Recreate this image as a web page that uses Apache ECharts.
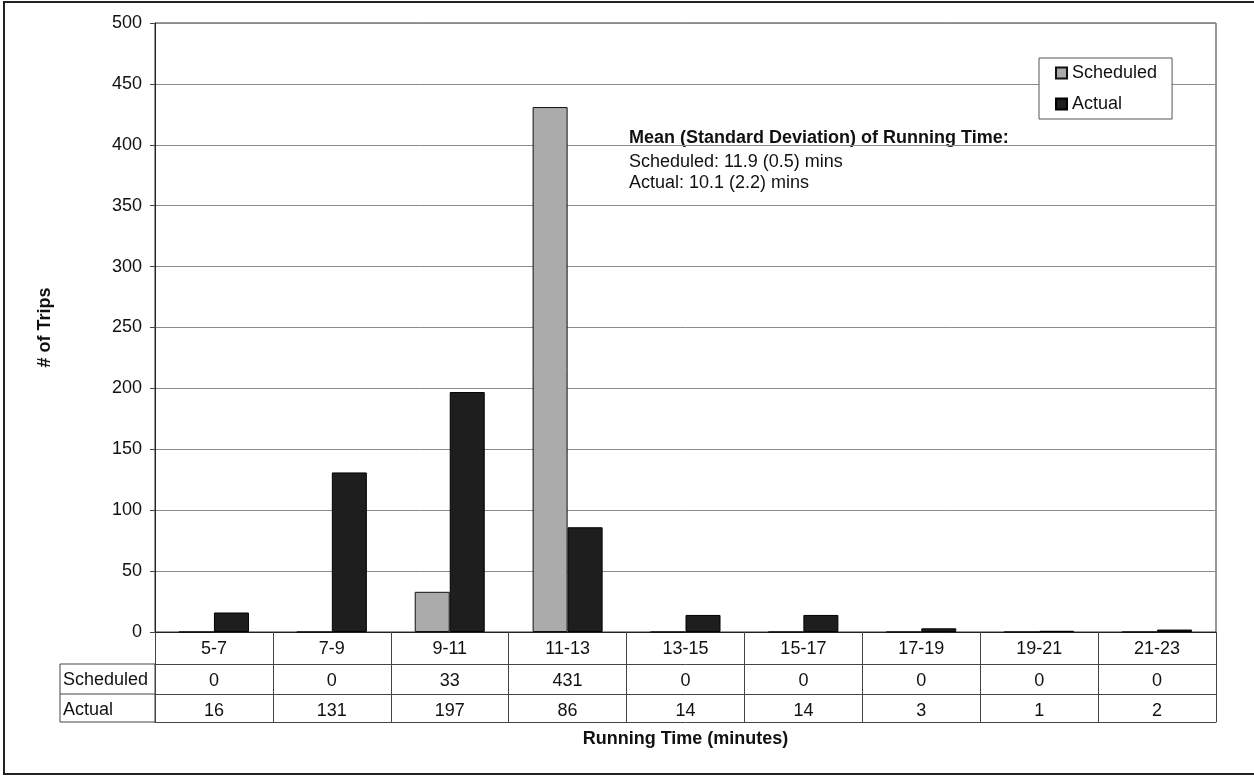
<!DOCTYPE html>
<html>
<head>
<meta charset="utf-8">
<style>
  html, body { margin: 0; padding: 0; background: #fff; }
  #chart { width: 1254px; height: 776px; }
</style>
<script src="https://cdn.jsdelivr.net/npm/echarts@6/dist/echarts.min.js"></script>
</head>
<body>
<div id="chart"></div>
<script>
// Running-time bins (minutes)
const categories = ['5-7', '7-9', '9-11', '11-13', '13-15', '15-17', '17-19', '19-21', '21-23'];
// Number of trips per bin
const scheduled = [0, 0, 33, 431, 0, 0, 0, 0, 0];
const actual = [16, 131, 197, 86, 14, 14, 3, 1, 2];
const seriesNames = ['Scheduled', 'Actual'];
const yTicks = { min: 0, max: 500, step: 50 };
const noteLines = [
  'Mean (Standard Deviation) of Running Time:',
  'Scheduled: 11.9 (0.5) mins',
  'Actual: 10.1 (2.2) mins'
];

const FONT = '"Liberation Sans", Arial, sans-serif';
const FS = 18;
const INK = '#111';

const chart = echarts.init(document.getElementById('chart'), null, { renderer: 'canvas' });

// Grid geometry (pixels)
const G = { left: 155, right: 38, top: 23, bottom: 144 };
const plotBottom = 776 - G.bottom;      // y of the zero line
const rowOffsets = [32, 62, 90];        // data-table row boundaries below the axis
const tableLeft = 60;

function tableAxis(offset, values, extra) {
  return Object.assign({
    type: 'category',
    gridIndex: 0,
    position: 'bottom',
    offset: offset,
    data: categories,
    axisLine: { show: true, lineStyle: { color: '#444', width: 1 } },
    axisTick: { show: false },
    splitLine: { show: false },
    axisLabel: {
      show: !!values,
      margin: 8,
      color: INK,
      fontFamily: FONT,
      fontSize: FS,
      formatter: (v, i) => values ? String(values[i]) : ''
    }
  }, extra || {});
}

const option = {
  animation: false,
  backgroundColor: '#fff',
  textStyle: { fontFamily: FONT },
  grid: {
    left: G.left, right: G.right, top: G.top, bottom: G.bottom,
    show: true, borderColor: '#333', borderWidth: 1, backgroundColor: 'transparent'
  },
  legend: {
    orient: 'vertical',
    left: 1039,
    top: 58,
    data: seriesNames,
    icon: 'rect',
    itemWidth: 11,
    itemHeight: 11,
    itemGap: 13,
    padding: [6, 15, 6, 16],
    borderColor: '#555',
    borderWidth: 1,
    backgroundColor: '#fff',
    textStyle: { fontFamily: FONT, fontSize: FS, color: INK, padding: [0, 0, 0, 0] }
  },
  xAxis: [
    {
      type: 'category',
      gridIndex: 0,
      position: 'bottom',
      data: categories,
      boundaryGap: true,
      axisLine: { show: true, lineStyle: { color: '#222', width: 1 } },
      axisTick: { show: true, alignWithLabel: false, length: rowOffsets[2], lineStyle: { color: '#444', width: 1 } },
      axisLabel: { margin: 8, color: INK, fontFamily: FONT, fontSize: FS },
      splitLine: { show: false }
    },
    tableAxis(rowOffsets[0], scheduled),
    tableAxis(rowOffsets[1], actual),
    tableAxis(rowOffsets[2], null, {
      name: 'Running Time (minutes)',
      nameLocation: 'middle',
      nameGap: 8,
      nameTextStyle: { fontFamily: FONT, fontSize: FS, fontWeight: 'bold', color: INK, verticalAlign: 'top' }
    })
  ],
  yAxis: {
    type: 'value',
    min: yTicks.min,
    max: yTicks.max,
    interval: yTicks.step,
    name: '# of Trips',
    nameLocation: 'middle',
    nameGap: 101,
    nameRotate: 90,
    nameTextStyle: { fontFamily: FONT, fontSize: FS, fontWeight: 'bold', color: INK },
    axisLine: { show: true, lineStyle: { color: '#222', width: 1 } },
    axisTick: { show: true, length: 5, lineStyle: { color: '#444' } },
    axisLabel: { margin: 13, color: INK, fontFamily: FONT, fontSize: FS },
    splitLine: { show: true, lineStyle: { color: '#8a8a8a', width: 1 } }
  },
  series: [
    {
      name: seriesNames[0],
      type: 'bar',
      data: scheduled,
      barWidth: 35,
      barGap: '0%',
      itemStyle: { color: '#ababab', borderColor: '#111', borderWidth: 1 },
      emphasis: { disabled: true }
    },
    {
      name: seriesNames[1],
      type: 'bar',
      data: actual,
      barWidth: 35,
      barGap: '0%',
      itemStyle: { color: '#1e1e1e', borderColor: '#000', borderWidth: 1 },
      emphasis: { disabled: true }
    }
  ],
  graphic: [
    // outer chart frame
    {
      type: 'rect', silent: true, z: 0,
      shape: { x: 4, y: 2, width: 1270, height: 772 },
      style: { fill: null, stroke: '#222', lineWidth: 2 }
    },
    // row-header cells of the data table
    {
      type: 'rect', silent: true, z: 10,
      shape: { x: tableLeft, y: plotBottom + rowOffsets[0], width: G.left - tableLeft, height: rowOffsets[2] - rowOffsets[0] },
      style: { fill: null, stroke: '#444', lineWidth: 1 }
    },
    {
      type: 'line', silent: true, z: 10,
      shape: { x1: tableLeft, y1: plotBottom + rowOffsets[1], x2: G.left, y2: plotBottom + rowOffsets[1] },
      style: { stroke: '#444', lineWidth: 1 }
    },
    {
      type: 'text', silent: true, z: 10,
      left: 63, top: plotBottom + rowOffsets[0] + 7,
      style: { text: seriesNames[0], fontFamily: FONT, fontSize: FS, fill: INK }
    },
    {
      type: 'text', silent: true, z: 10,
      left: 63, top: plotBottom + rowOffsets[1] + 7,
      style: { text: seriesNames[1], fontFamily: FONT, fontSize: FS, fill: INK }
    },
    // summary note
    {
      type: 'group', silent: true, z: 20,
      left: 623, top: 126,
      children: [
        { type: 'rect', shape: { x: 0, y: 0, width: 458, height: 82 }, style: { fill: '#fff', stroke: null } },
        { type: 'text', x: 6, y: 3, style: { text: noteLines[0], fontFamily: FONT, fontSize: FS, fontWeight: 'bold', fill: INK } },
        { type: 'text', x: 6, y: 27, style: { text: noteLines[1], fontFamily: FONT, fontSize: FS, fill: INK } },
        { type: 'text', x: 6, y: 48, style: { text: noteLines[2], fontFamily: FONT, fontSize: FS, fill: INK } }
      ]
    }
  ]
};

chart.setOption(option);
</script>
</body>
</html>
